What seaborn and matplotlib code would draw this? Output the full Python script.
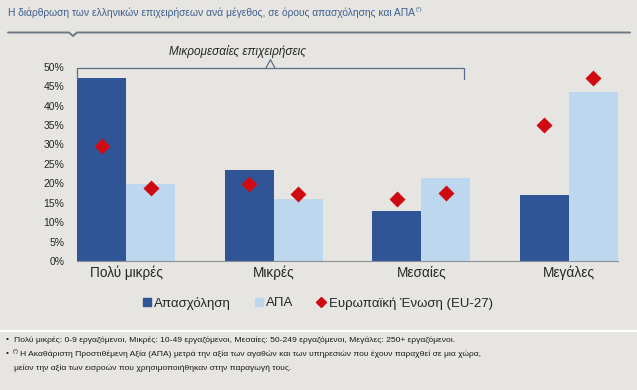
import pandas as pd
import seaborn as sns
import matplotlib.pyplot as plt
from matplotlib.lines import Line2D

# Data
categories = ['Πολύ μικρές', 'Μικρές', 'Μεσαίες', 'Μεγάλες']
employment = [0.471, 0.234, 0.129, 0.171]
gva = [0.198, 0.160, 0.213, 0.435]
eu_employment = [0.296, 0.198, 0.159, 0.349]
eu_gva = [0.188, 0.172, 0.174, 0.472]
series = ['Απασχόληση', 'ΑΠΑ']

bg = '#e6e5e1'
dark = '#2f5597'
light = '#bdd7ee'
red = '#d00a12'

bars = pd.DataFrame({
    'size': categories * 2,
    'series': [series[0]] * 4 + [series[1]] * 4,
    'value': employment + gva,
})
eu = pd.DataFrame({
    'size': categories * 2,
    'series': [series[0]] * 4 + [series[1]] * 4,
    'value': eu_employment + eu_gva,
})

sns.set_theme(style='white')
plt.rcParams['font.family'] = ['Liberation Sans', 'DejaVu Sans']

fig = plt.figure(figsize=(6.37, 3.9), dpi=100, facecolor=bg)
ax = fig.add_axes([0.1209, 0.3308, 0.8491, 0.4982])
ax.set_facecolor(bg)

sns.barplot(data=bars, x='size', y='value', hue='series', order=categories,
            hue_order=series, palette=[dark, light], width=2 / 3,
            linewidth=0, saturation=1, legend=False, ax=ax)
sns.pointplot(data=eu, x='size', y='value', hue='series', order=categories,
              hue_order=series, palette=[red, red], dodge=1 / 3,
              linestyle='none', markers='D', markersize=6, errorbar=None,
              legend=False, ax=ax)

ax.set_xlim(-1 / 3, 3 + 1 / 3)
ax.set_ylim(0, 0.5)
ax.set_yticks([i * 0.05 for i in range(11)])
ax.set_yticklabels([f'{i * 5}%' for i in range(11)], fontsize=7.5, color='#262626')
ax.set_xticks(range(4))
ax.set_xticklabels(categories, fontsize=9.8, color='#262626')
ax.tick_params(axis='both', length=0)
ax.tick_params(axis='y', pad=9)
ax.tick_params(axis='x', pad=3)
ax.set_xlabel('')
ax.set_ylabel('')
for s in ['top', 'right', 'left']:
    ax.spines[s].set_visible(False)
ax.spines['bottom'].set_color('#8a8f98')
ax.spines['bottom'].set_linewidth(0.8)

# brace over the SMEs
bx0, bx1, bmid = -1 / 3, 2.288, 0.978
bc = '#5a6e8c'
ax.plot([bx0, bx0, bx1, bx1], [0.469, 0.497, 0.497, 0.469], color=bc, lw=0.9,
        clip_on=False, solid_joinstyle='round')
ax.plot([bmid - 0.03, bmid, bmid + 0.03], [0.497, 0.518, 0.497], color=bc, lw=0.9,
        clip_on=False)
ax.text(0.756, 0.54, 'Μικρομεσαίες επιχειρήσεις', ha='center', va='center',
        fontsize=8.5, style='italic', color='#262626')

# title and rule
title = fig.text(8 / 637, 1 - 13 / 390,
                 'Η διάρθρωση των ελληνικών επιχειρήσεων ανά μέγεθος, σε όρους απασχόλησης και ΑΠΑ',
                 fontsize=7.4, color='#3f5f8c', va='center', ha='left')
fig.add_artist(Line2D([8 / 637, 69 / 637, 73 / 637, 77 / 637, 630 / 637],
                      [1 - 32.5 / 390, 1 - 32.5 / 390, 1 - 36 / 390, 1 - 32.5 / 390, 1 - 32.5 / 390],
                      color='#6d7887', lw=1.4))

# legend
handles = [
    Line2D([], [], marker='s', color=dark, linestyle='none', markersize=5.5),
    Line2D([], [], marker='s', color=light, linestyle='none', markersize=5.5),
    Line2D([], [], marker='D', color=red, linestyle='none', markersize=5.5),
]
fig.legend(handles, ['Απασχόληση', 'ΑΠΑ', 'Ευρωπαϊκή Ένωση (EU-27)'],
           loc='center', bbox_to_anchor=(0.497, 1 - 303 / 390), ncol=3, frameon=False,
           fontsize=9.5, handletextpad=0.05, columnspacing=1.6, handlelength=1.0,
           labelcolor='#262626')

# separator and footnotes
fig.add_artist(Line2D([0, 1], [1 - 331 / 390, 1 - 331 / 390], color='white', lw=1.5))
fs = 6.1
fig.text(6 / 637, 1 - 340 / 390, '•', fontsize=fs, color='#1a1a1a', va='center')
fig.text(14 / 637, 1 - 340 / 390,
         'Πολύ μικρές: 0-9 εργαζόμενοι, Μικρές: 10-49 εργαζόμενοι, Μεσαίες: 50-249 εργαζόμενοι, Μεγάλες: 250+ εργαζόμενοι.',
         fontsize=fs, color='#1a1a1a', va='center', ha='left')
fig.text(6 / 637, 1 - 354 / 390, '•', fontsize=fs, color='#1a1a1a', va='center')
fig.text(13 / 637, 1 - 351.5 / 390, '(*)', fontsize=4, color='#1a1a1a', va='center')
fig.text(20 / 637, 1 - 354 / 390,
         'Η Ακαθάριστη Προστιθέμενη Αξία (ΑΠΑ) μετρά την αξία των αγαθών και των υπηρεσιών που έχουν παραχθεί σε μια χώρα,',
         fontsize=fs, color='#1a1a1a', va='center', ha='left')
fig.text(14 / 637, 1 - 368 / 390,
         'μείον την αξία των εισροών που χρησιμοποιήθηκαν στην παραγωγή τους.',
         fontsize=fs, color='#1a1a1a', va='center', ha='left')

# superscript right after the title
fig.canvas.draw()
tb = title.get_window_extent().transformed(fig.transFigure.inverted())
fig.text(tb.x1 + 1 / 637, 1 - 10 / 390, '(*)', fontsize=4.5, color='#3f5f8c',
         va='center', ha='left')

fig.savefig('out.png', dpi=100, facecolor=bg)
